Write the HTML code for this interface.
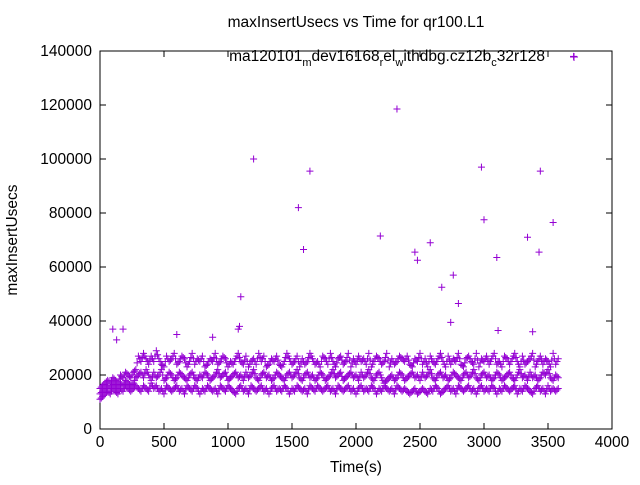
<!DOCTYPE html>
<html><head><meta charset="utf-8"><style>
body{margin:0;background:#fff;}
svg text{font-family:"Liberation Sans",sans-serif;font-size:15.5px;fill:#000;}
</style></head><body>
<svg id="chart" width="640" height="480">
<rect x="0" y="0" width="640" height="480" fill="#fff"/>
<text x="356" y="27" text-anchor="middle">maxInsertUsecs vs Time for qr100.L1</text>
<text transform="translate(17,240) rotate(-90)" text-anchor="middle">maxInsertUsecs</text>
<text x="356" y="472" text-anchor="middle">Time(s)</text>
<g id="axes"></g>
<g id="marks"></g>
<text x="545" y="61" text-anchor="end">ma120101<tspan dy="5" font-size="11">m</tspan><tspan dy="-5">dev16168</tspan><tspan dy="5" font-size="11">r</tspan><tspan dy="-5">el</tspan><tspan dy="5" font-size="11">w</tspan><tspan dy="-5">ithdbg.cz12b</tspan><tspan dy="5" font-size="11">c</tspan><tspan dy="-5">32r128</tspan></text>
<path d="M570,57h8M574,53v8" stroke="#9400d3" stroke-width="1"/>
</svg>
<script>
const xTicks=[0,500,1000,1500,2000,2500,3000,3500,4000];
const yTicks=[0,20000,40000,60000,80000,100000,120000,140000];
// values in thousands of usecs, sampled every 20s starting at t=0
const lowBand=[11,12,13,14,13,15,14,13,15,14,16,15,14,15,16,
15,14,16,15,14,17,15,16,14,15,13,16,15,14,15,16,14,15,13,16,15,14,16,15,13,15,14,16,15,14,15,13,16,15,14,
16,15,14,13,15,16,14,15,13,16,15,14,15,16,14,15,13,15,16,14,15,14,16,15,13,15,14,16,15,14,15,13,16,15,14,
16,15,14,15,16,14,15,13,16,15,14,15,16,14,15,13,15,16,14,15,14,16,15,13,15,14,16,15,14,15,13,16,15,14,15,
14,13,14,15,13,14,15,14,13,15,14,16,15,13,14,15,16,14,15,13,16,15,14,15,16,14,15,13,15,16,14,15,14,16,15,13,15,14,16,15,
14,15,16,13,15,14,16,15,14,13,15,16,14,15,13,16,14,15,14,15];
const midBand=[13,14,15,16,15,17,16,15,17,16,18,17,16,17,19,
20,21,19,22,20,18,21,19,20,22,18,19,21,20,18,19,21,20,19,18,20,21,19,18,20,19,21,20,18,19,20,22,19,20,21,
18,19,20,21,19,20,18,21,19,20,22,19,18,20,21,19,20,18,19,21,20,19,18,20,21,19,20,22,19,18,20,21,19,20,18,
19,21,20,18,19,20,22,19,20,21,18,19,20,21,19,20,18,21,19,20,22,19,18,20,21,19,17,18,19,20,18,19,21,20,18,
19,20,21,19,20,18,21,19,20,22,19,18,20,21,19,20,18,19,21,20,19,18,20,21,19,20,22,19,18,20,21,19,20,18,19,21,20,18,19,20,
21,19,18,20,22,19,20,18,21,19,20,18,19,21,20,22,19,18,20,19];
const highBand=[15,16,17,18,17,19,18,17,20,19,21,20,19,21,22,
27,25,28,26,24,27,25,29,26,24,23,27,25,26,28,24,25,27,26,23,25,28,24,26,25,27,23,24,26,25,28,24,25,27,26,
23,25,24,26,28,25,24,27,23,25,26,24,28,25,27,23,24,26,25,27,24,23,25,28,26,24,25,27,23,26,24,25,28,26,24,
25,23,27,26,24,28,25,23,26,27,24,25,28,23,26,24,27,25,26,24,28,23,25,27,26,24,25,28,23,26,24,25,27,26,25,
27,24,23,26,25,28,24,26,23,27,25,24,26,28,25,23,27,24,26,25,28,24,23,26,27,25,24,28,23,26,25,27,24,26,28,24,25,23,27,26,
24,26,28,25,23,27,24,25,26,28,23,25,27,24,26,25,23,28,24,26];
const outT=[100,130,180,600,880,1080,1090,1100,1200,1550,1590,1640,2190,2320,2460,2480,2580,2670,2740,2760,2800,2980,3000,3100,3110,3340,3380,3430,3440,3540,3700];
const outV=[37,33,37,35,34,37,38,49,100,82,66.5,95.5,71.5,118.5,65.5,62.5,69,52.5,39.5,57,46.5,97,77.5,63.5,36.5,71,36,65.5,95.5,76.5,138];
const X0=100,X1=612,Y0=429,Y1=51;
const sx=t=>X0+(X1-X0)*t/4000, sy=v=>Y0-(Y0-Y1)*v/140000;
const ns="http://www.w3.org/2000/svg";
const axes=document.getElementById('axes'), marks=document.getElementById('marks');
function mk(tag,attrs,parent){const e=document.createElementNS(ns,tag);for(const k in attrs)e.setAttribute(k,attrs[k]);parent.appendChild(e);return e;}
const frame=mk('rect',{x:X0,y:Y1,width:X1-X0,height:Y0-Y1,fill:'none',stroke:'#000'},axes);


xTicks.forEach(t=>{const x=sx(t);
 const l=mk('path',{d:`M${x},${Y0}v-6M${x},${Y1}v6`,stroke:'#000'},axes);
 
 
 const tx=mk('text',{x:x,y:Y0+18,'text-anchor':'middle'},axes);tx.textContent=t;
 
 });
yTicks.forEach(v=>{const y=sy(v);
 const l=mk('path',{d:`M${X0},${y}h6M${X1},${y}h-6`,stroke:'#000'},axes);
 
 
 const tx=mk('text',{x:X0-8,y:y+5,'text-anchor':'end'},axes);tx.textContent=v;
 
 });
let d='';
const plus=(t,v)=>{const x=sx(t),y=sy(v*1000);d+=`M${x-3.5},${y}h7M${x},${y-3.5}v7`;};
[lowBand,midBand,highBand].forEach(arr=>arr.forEach((v,i)=>{plus(i*20,v);if(i+1<arr.length)plus(i*20+10,(v+arr[i+1])/2);}));
outT.forEach((t,i)=>plus(t,outV[i]));
const p=mk('path',{d:d,stroke:'#9400d3','stroke-width':1,fill:'none'},marks);


</script>
</body></html>
